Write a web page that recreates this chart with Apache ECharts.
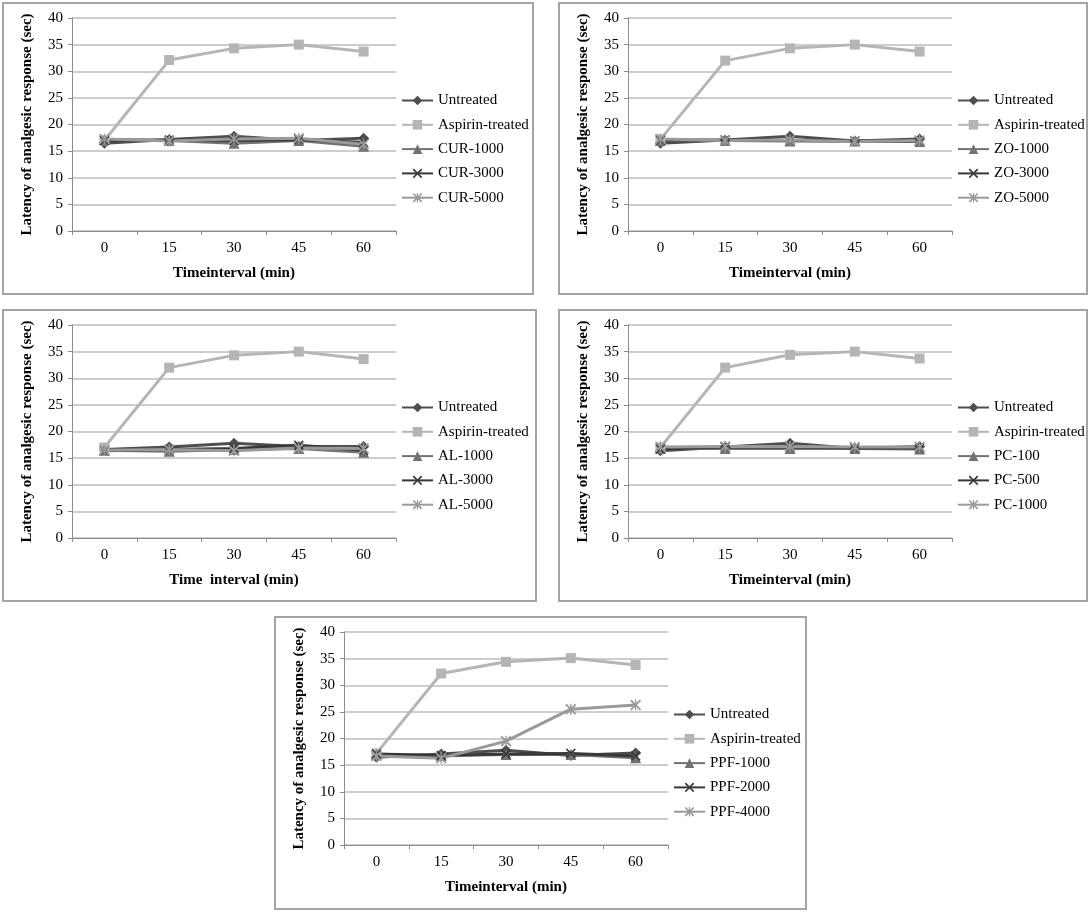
<!DOCTYPE html>
<html><head><meta charset="utf-8">
<script src="https://cdn.jsdelivr.net/npm/echarts@6/dist/echarts.min.js"></script>
<style>html,body{margin:0;padding:0;background:#fff}#c{width:1092px;height:912px}</style>
</head><body><div id="c"></div>
<script>
// ---------- data ----------
const categories = ['0', '15', '30', '45', '60'];
const yAxisTitle = 'Latency of analgesic response (sec)';
const xAxisTitles = ['Timeinterval (min)', 'Timeinterval (min)', 'Time  interval (min)', 'Timeinterval (min)', 'Timeinterval (min)'];

const curNames = ['Untreated', 'Aspirin-treated', 'CUR-1000', 'CUR-3000', 'CUR-5000'];
const curUntreated = [16.5, 17.2, 17.8, 17.0, 17.4];
const curAspirin   = [17.0, 32.1, 34.3, 35.0, 33.7];
const cur1000      = [17.2, 17.0, 16.5, 17.0, 15.9];
const cur3000      = [17.0, 17.1, 17.0, 17.2, 16.6];
const cur5000      = [17.3, 16.9, 17.3, 17.4, 16.3];

const zoNames = ['Untreated', 'Aspirin-treated', 'ZO-1000', 'ZO-3000', 'ZO-5000'];
const zoUntreated = [16.5, 17.1, 17.8, 16.9, 17.3];
const zoAspirin   = [17.2, 32.0, 34.3, 35.0, 33.7];
const zo1000      = [17.0, 17.0, 16.9, 16.9, 16.8];
const zo3000      = [17.1, 17.1, 17.0, 16.9, 16.9];
const zo5000      = [17.3, 17.0, 17.1, 16.8, 17.0];

const alNames = ['Untreated', 'Aspirin-treated', 'AL-1000', 'AL-3000', 'AL-5000'];
const alUntreated = [16.6, 17.1, 17.8, 17.2, 17.2];
const alAspirin   = [17.0, 32.0, 34.3, 35.0, 33.6];
const al1000      = [16.5, 16.3, 16.6, 16.8, 16.1];
const al3000      = [16.4, 16.6, 16.8, 17.4, 16.5];
const al5000      = [16.5, 16.6, 16.4, 16.9, 16.8];

const pcNames = ['Untreated', 'Aspirin-treated', 'PC-100', 'PC-500', 'PC-1000'];
const pcUntreated = [16.4, 17.1, 17.8, 16.8, 17.2];
const pcAspirin   = [17.0, 32.0, 34.4, 35.0, 33.7];
const pc100       = [16.8, 16.8, 16.8, 16.8, 16.7];
const pc500       = [16.7, 17.1, 17.1, 16.9, 16.9];
const pc1000      = [17.1, 17.2, 17.2, 17.1, 17.1];

const ppfNames = ['Untreated', 'Aspirin-treated', 'PPF-1000', 'PPF-2000', 'PPF-4000'];
const ppfUntreated = [16.5, 17.1, 17.8, 16.8, 17.3];
const ppfAspirin   = [17.2, 32.2, 34.4, 35.1, 33.8];
const ppf1000      = [17.0, 16.8, 17.0, 17.0, 16.4];
const ppf2000      = [17.1, 16.8, 17.1, 17.2, 16.7];
const ppf4000      = [16.7, 16.3, 19.5, 25.5, 26.3];

// ---------- styling ----------
const FONT = '"Liberation Serif", "Times New Roman", serif';
const X_PATH = 'path://M0,1.2L1.2,0L5,3.8L8.8,0L10,1.2L6.2,5L10,8.8L8.8,10L5,6.2L1.2,10L0,8.8L3.8,5Z';
const STAR_PATH = 'path://M0,1.2L1.2,0L4.4,3.2L4.4,0L5.6,0L5.6,3.2L8.8,0L10,1.2L6.2,5L10,8.8L8.8,10L5.6,6.8L5.6,10L4.4,10L4.4,6.8L1.2,10L0,8.8L3.8,5Z';
const seriesStyles = [
  { color: '#4e4e4e', symbol: 'diamond', size: 11 },
  { color: '#b5b5b5', symbol: 'rect', size: 10 },
  { color: '#727272', symbol: 'triangle', size: 11 },
  { color: '#383838', symbol: X_PATH, size: 10 },
  { color: '#9a9a9a', symbol: STAR_PATH, size: 11 }
];

const panels = [
  { names: curNames, data: [curUntreated, curAspirin, cur1000, cur3000, cur5000], box: [3, 3, 530, 291] },
  { names: zoNames,  data: [zoUntreated, zoAspirin, zo1000, zo3000, zo5000],       box: [559, 3, 528, 291] },
  { names: alNames,  data: [alUntreated, alAspirin, al1000, al3000, al5000],       box: [3, 310, 533, 291] },
  { names: pcNames,  data: [pcUntreated, pcAspirin, pc100, pc500, pc1000],         box: [559, 310, 528, 291] },
  { names: ppfNames, data: [ppfUntreated, ppfAspirin, ppf1000, ppf2000, ppf4000],  box: [275, 617, 531, 292] }
];

const option = {
  backgroundColor: '#fff',
  animation: false,
  grid: [], xAxis: [], yAxis: [], legend: [], series: [],
  graphic: []
};

panels.forEach((p, i) => {
  const [bx, by, bw, bh] = p.box;
  const gl = bx + 69, gt = by + 15;
  option.graphic.push({
    type: 'rect', silent: true, z: -1,
    shape: { x: bx, y: by, width: bw, height: bh },
    style: { fill: '#fff', stroke: '#a4a4a4', lineWidth: 2 }
  });
  option.grid.push({ left: gl, top: gt, width: 324, height: 213, containLabel: false });
  option.xAxis.push({
    type: 'category', gridIndex: i, data: categories, boundaryGap: true,
    name: xAxisTitles[i], nameLocation: 'middle', nameGap: 35,
    nameTextStyle: { fontFamily: FONT, fontSize: 15, fontWeight: 'bold', color: '#000' },
    axisLine: { lineStyle: { color: '#8c8c8c', width: 1 } },
    axisTick: { show: true, length: 4, lineStyle: { color: '#8c8c8c' } },
    axisLabel: { fontFamily: FONT, fontSize: 15, color: '#000', margin: 10 },
    splitLine: { show: false }
  });
  option.yAxis.push({
    type: 'value', gridIndex: i, min: 0, max: 40, interval: 5,
    name: yAxisTitle, nameLocation: 'middle', nameGap: 37, nameRotate: 90,
    nameTextStyle: { fontFamily: FONT, fontSize: 15, fontWeight: 'bold', color: '#000' },
    axisLine: { show: true, lineStyle: { color: '#8c8c8c', width: 1 } },
    axisTick: { show: true, length: 4, lineStyle: { color: '#8c8c8c' } },
    axisLabel: { fontFamily: FONT, fontSize: 15, color: '#000', margin: 9 },
    splitLine: { show: true, lineStyle: { color: '#bcbcbc', width: 1.5 } }
  });
  option.legend.push({
    data: p.names, orient: 'vertical',
    left: gl + 329, top: gt + 75, padding: 0,
    itemWidth: 31, itemHeight: 12, itemGap: 9.3,
    selectedMode: false,
    textStyle: { fontFamily: FONT, fontSize: 15, color: '#000', lineHeight: 15 }
  });
  p.names.forEach((name, k) => {
    const st = seriesStyles[k];
    option.series.push({
      type: 'line', name: name, xAxisIndex: i, yAxisIndex: i,
      data: p.data[k],
      symbol: st.symbol, symbolSize: st.size,
      lineStyle: { color: st.color, width: 3 },
      itemStyle: { color: st.color },
      emphasis: { disabled: true }
    });
  });
});

const chart = echarts.init(document.getElementById('c'), null, { renderer: 'canvas' });
chart.setOption(option);
</script>
</body></html>
